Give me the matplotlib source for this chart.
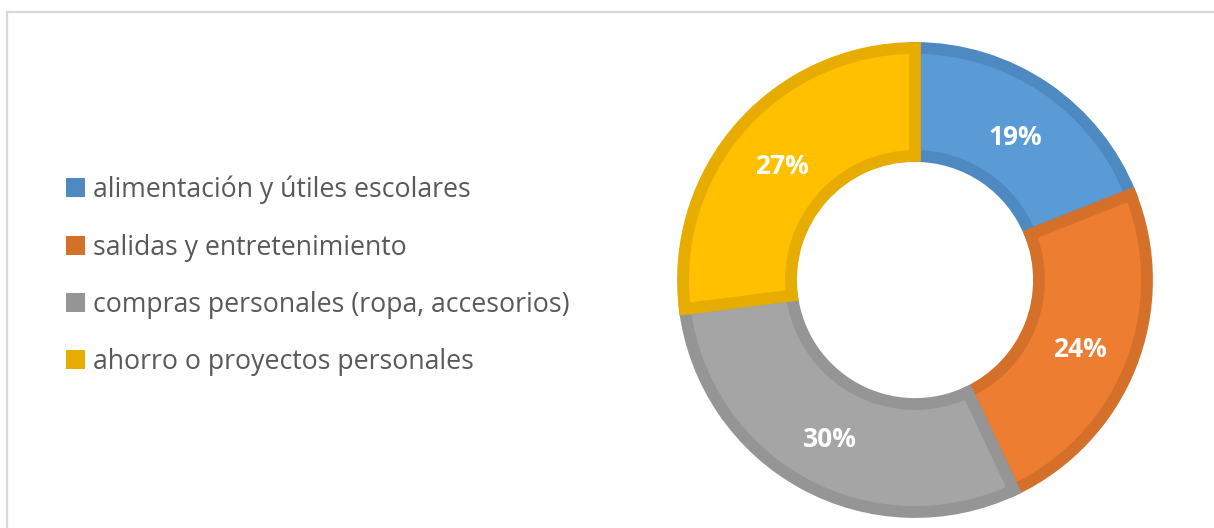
import matplotlib.pyplot as plt
from matplotlib.patches import Patch
from matplotlib.lines import Line2D

categorias = ["alimentación y útiles escolares",
              "salidas y entretenimiento",
              "compras personales (ropa, accesorios)",
              "ahorro o proyectos personales"]
porcentajes = [19, 24, 30, 27]
colores = ["#5B9BD5", "#ED7D31", "#A5A5A5", "#FFC000"]
bordes = ["#4F89C1", "#D5702B", "#959595", "#E6AC00"]

W, H = 1214, 528
fig = plt.figure(figsize=(W / 100, H / 100), dpi=100)
ax = fig.add_axes([0, 0, 1, 1])

# donut, centered at pixel (915, 280) of the picture
wedges, texts, autotexts = ax.pie(
    porcentajes, colors=colores, center=(915, H - 280), radius=232,
    startangle=90, counterclock=False,
    wedgeprops=dict(width=108, linewidth=8.5),
    autopct='%1.0f%%', pctdistance=0.765,
    textprops=dict(color="white", fontsize=19, fontweight="bold",
                   family="Open Sans"))
for w, b in zip(wedges, bordes):
    w.set_edgecolor(b)
for t in autotexts:
    x, y = t.get_position()
    t.set_position((x, y - 4))

ax.set_xlim(0, W)
ax.set_ylim(0, H)
ax.set_aspect("equal")
ax.axis("off")

# chart frame
fig.add_artist(Line2D([6.5 / W, 6.5 / W], [0, 1 - 11.5 / H], color="#D9D9D9",
                      lw=1.6, transform=fig.transFigure))
fig.add_artist(Line2D([6.5 / W, 1], [1 - 11.5 / H, 1 - 11.5 / H], color="#D9D9D9",
                      lw=1.6, transform=fig.transFigure))

handles = [Patch(facecolor=b, edgecolor="none") for b in bordes]
fig.legend(handles, categorias, loc="center left",
           bbox_to_anchor=(66 / W, (H - 276) / H), frameon=False,
           prop=dict(family="Open Sans", size=19.2), labelcolor="#595959",
           handlelength=0.72, handleheight=0.72, handletextpad=0.3,
           labelspacing=1.1, borderpad=0, borderaxespad=0)

fig.savefig("out.png", dpi=100, facecolor="white")
